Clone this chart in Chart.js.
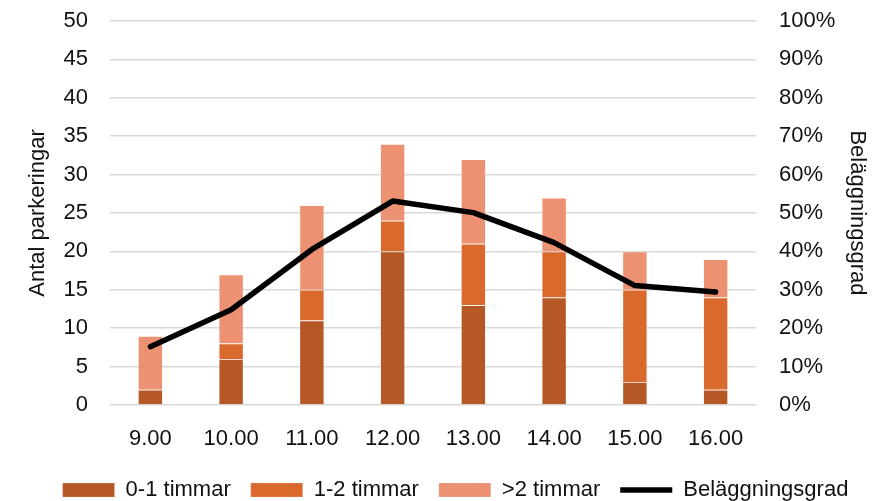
<!DOCTYPE html>
<html>
<head>
<meta charset="utf-8">
<script src="https://cdn.jsdelivr.net/npm/chart.js@4"></script>
<style>
  html, body { margin: 0; padding: 0; background: #fff; }
  #wrap { width: 887px; height: 501px; }
</style>
</head>
<body>
<div id="wrap"><canvas id="c" width="887" height="501"></canvas></div>
<script>
const categories = ['9.00', '10.00', '11.00', '12.00', '13.00', '14.00', '15.00', '16.00'];
const short01 = [2, 6, 11, 20, 13, 14, 3, 2];
const mid12 = [0, 2, 4, 4, 8, 6, 12, 12];
const long2 = [7, 9, 11, 10, 11, 7, 5, 5];
const occupancy = [0.152, 0.248, 0.405, 0.531, 0.501, 0.423, 0.311, 0.294];

const FONT = { family: "'Liberation Sans', Arial, sans-serif", size: 22 };
const TXT = '#111111';

new Chart(document.getElementById('c'), {
  data: {
    labels: categories,
    datasets: [
      { type: 'line', label: 'Beläggningsgrad', data: occupancy, yAxisID: 'y1',
        borderColor: '#000000', backgroundColor: '#000000', borderWidth: 5.5,
        pointRadius: 0, pointHoverRadius: 0, tension: 0, borderCapStyle: 'round',
        borderJoinStyle: 'round', pointStyle: 'line', order: 0 },
      { type: 'bar', label: '0-1 timmar', data: short01, yAxisID: 'y', stack: 's',
        backgroundColor: '#B65726', borderColor: 'rgba(255,255,255,0.25)', borderWidth: 0.8,
        pointStyle: 'rect', order: 1 },
      { type: 'bar', label: '1-2 timmar', data: mid12, yAxisID: 'y', stack: 's',
        backgroundColor: '#D9692D', borderColor: 'rgba(255,255,255,0.25)', borderWidth: 0.8,
        pointStyle: 'rect', order: 1 },
      { type: 'bar', label: '>2 timmar', data: long2, yAxisID: 'y', stack: 's',
        backgroundColor: '#EC9272', borderColor: 'rgba(255,255,255,0.25)', borderWidth: 0.8,
        pointStyle: 'rect', order: 1 }
    ]
  },
  options: {
    responsive: false,
    animation: false,
    devicePixelRatio: 1,
    layout: { padding: { left: 24, right: 0, top: 21, bottom: -10 } },
    datasets: { bar: { categoryPercentage: 1, barPercentage: 0.31 } },
    plugins: {
      tooltip: { enabled: false },
      legend: {
        position: 'bottom',
        labels: {
          font: FONT, color: TXT, usePointStyle: true, pointStyleWidth: 52,
          boxHeight: 14, padding: 20,
          sort: (a, b) => {
            const ord = ['0-1 timmar', '1-2 timmar', '>2 timmar', 'Beläggningsgrad'];
            return ord.indexOf(a.text) - ord.indexOf(b.text);
          }
        }
      }
    },
    scales: {
      x: {
        stacked: true,
        grid: { display: false },
        border: { display: false },
        ticks: { font: FONT, color: TXT, padding: 13, maxRotation: 0 },
        afterFit: (s) => { s.height = 54; }
      },
      y: {
        position: 'left', stacked: true, min: 0, max: 50,
        ticks: { stepSize: 5, font: FONT, color: TXT, padding: 0 },
        grid: { color: '#d9d9d9', lineWidth: 1.5, drawTicks: true, tickLength: 22, tickColor: 'rgba(0,0,0,0)' },
        border: { display: false },
        title: { display: true, text: 'Antal parkeringar', font: FONT, color: TXT, padding: { top: 1, bottom: 0 } },
        afterFit: (s) => { s.width = 86; }
      },
      y1: {
        position: 'right', min: 0, max: 1,
        ticks: { stepSize: 0.1, font: FONT, color: TXT, padding: 0,
          callback: (v) => Math.round(v * 100) + '%' },
        grid: { display: true, drawOnChartArea: false, drawTicks: true, tickLength: 23, tickColor: 'rgba(0,0,0,0)' },
        border: { display: false },
        title: { display: true, text: 'Beläggningsgrad', font: FONT, color: TXT, padding: { top: 17, bottom: 0 } },
        afterFit: (s) => { s.width = 131; }
      }
    }
  }
});
</script>
</body>
</html>
